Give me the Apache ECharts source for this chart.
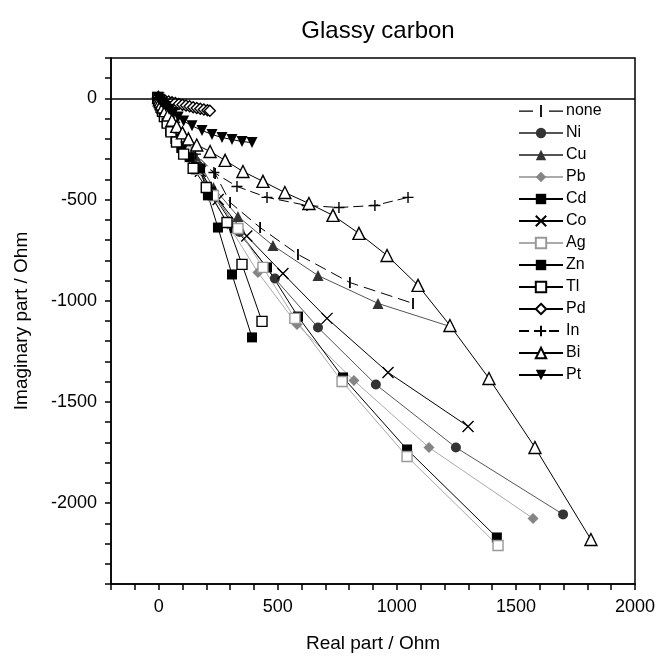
<!DOCTYPE html>
<html>
<head>
<meta charset="utf-8">
<script src="https://cdn.jsdelivr.net/npm/echarts@6/dist/echarts.min.js"></script>
<style>html,body{margin:0;padding:0;background:#fff}#c{width:660px;height:658px}</style>
</head>
<body>
<div id="c"></div>
<script>
// ---- data (Real part / Ohm, Imaginary part / Ohm) ----
const seriesNames = ['none','Ni','Cu','Pb','Cd','Co','Ag','Zn','Tl','Pd','In','Bi','Pt'];
const noneData = [[-3,4],[2,-5],[5,-12],[9,-22],[15,-36],[22,-52],[32,-72],[45,-98],[62,-132],[85,-175],[115,-230],[160,-300],[237,-371],[300,-514],[426,-638],[585,-771],[803,-910],[1068,-1013]];
const niData = [[-2,5],[2,-5],[5,-12],[9,-22],[15,-35],[22,-50],[32,-70],[45,-95],[62,-130],[85,-175],[115,-235],[155,-310],[230,-470],[340,-660],[488,-890],[669,-1132],[912,-1414],[1248,-1725],[1698,-2056]];
const cuData = [[-2,4],[2,-4],[5,-11],[9,-20],[15,-33],[22,-48],[32,-68],[45,-92],[62,-125],[85,-170],[115,-225],[160,-300],[230,-440],[333,-583],[480,-727],[669,-875],[921,-1013],[1223,-1127]];
const pbData = [[0,3],[3,-6],[6,-14],[10,-25],[16,-38],[24,-55],[34,-76],[48,-104],[66,-140],[90,-190],[122,-250],[165,-335],[210,-450],[290,-620],[417,-860],[581,-1117],[820,-1394],[1135,-1725],[1572,-2076]];
const cdData = [[-3,6],[2,-6],[5,-14],[9,-25],[15,-40],[22,-58],[32,-80],[45,-108],[62,-145],[85,-195],[115,-255],[160,-340],[220,-460],[320,-640],[455,-835],[585,-1078],[774,-1379],[1043,-1735],[1420,-2170]];
const coData = [[0,4],[3,-6],[6,-14],[10,-25],[16,-38],[24,-56],[34,-78],[48,-106],[66,-142],[90,-192],[125,-260],[175,-360],[250,-500],[370,-680],[522,-865],[707,-1087],[963,-1354],[1299,-1621]];
const agData = [[-2,5],[2,-6],[5,-14],[9,-26],[15,-41],[22,-60],[32,-83],[45,-112],[62,-150],[85,-200],[115,-262],[160,-350],[230,-480],[333,-643],[438,-835],[572,-1087],[770,-1399],[1043,-1770],[1425,-2210]];
const znData = [[-4,6],[1,-6],[3,-15],[6,-28],[10,-44],[16,-64],[24,-90],[34,-122],[48,-162],[70,-200],[95,-245],[130,-290],[174,-346],[207,-479],[249,-638],[308,-870],[392,-1181]];
const tlData = [[-4,5],[1,-6],[3,-15],[6,-28],[10,-44],[16,-64],[24,-90],[36,-122],[52,-165],[75,-215],[105,-275],[145,-345],[200,-440],[287,-613],[350,-820],[434,-1102]];
const pdData = [[-3,5],[5,-3],[15,-7],[28,-11],[42,-15],[56,-19],[70,-23],[85,-27],[100,-31],[115,-35],[130,-39],[145,-43],[160,-47],[175,-51],[190,-55],[205,-58],[215,-61]];
const inData = [[-2,4],[2,-5],[5,-12],[9,-22],[15,-35],[22,-52],[32,-72],[45,-98],[62,-130],[85,-170],[115,-215],[155,-275],[232,-366],[329,-435],[455,-489],[623,-529],[757,-539],[908,-529],[1047,-489]];
const biData = [[0,4],[3,-6],[7,-15],[12,-27],[19,-42],[28,-60],[40,-82],[56,-108],[76,-138],[100,-170],[125,-200],[160,-230],[216,-262],[279,-306],[354,-361],[438,-410],[530,-465],[631,-519],[732,-578],[841,-667],[959,-776],[1089,-924],[1223,-1122],[1387,-1384],[1580,-1725],[1815,-2180]];
const ptData = [[-3,5],[2,-4],[6,-10],[12,-18],[20,-28],[30,-40],[44,-55],[62,-72],[82,-92],[105,-112],[140,-135],[182,-158],[224,-178],[266,-193],[308,-203],[350,-213],[392,-218]];
const xTickLabels = [0,500,1000,1500,2000];
const yTickLabels = [0,-500,-1000,-1500,-2000];

const FONT = "'Liberation Sans', Arial, sans-serif";
const X_PATH = 'path://M0,0L10,10M0,10L10,0';
const PLUS_PATH = 'path://M5,0L5,10M0,5L10,5';
const BAR_PATH = 'path://M0,0L1.8,0L1.8,11L0,11Z';
const NONE_LEGEND_ICON = 'path://M0,6L14,6L14,7.3L0,7.3Z M21.1,0.5L22.9,0.5L22.9,12.5L21.1,12.5Z M30,6L44,6L44,7.3L30,7.3Z';

function mk(name, data, opt) {
  return {
    name: name, type: 'line', data: data,
    symbol: opt.symbol, symbolSize: opt.size || 10,
    symbolRotate: opt.rotate || 0,
    symbolKeepAspect: !!opt.keep,
    showAllSymbol: true,
    lineStyle: {color: opt.line || '#000', width: 1, type: opt.dash || 'solid'},
    itemStyle: {color: opt.fill, borderColor: opt.border || opt.fill, borderWidth: opt.bw || 0},
    emphasis: {disabled: true},
    z: opt.z || 2
  };
}

const series = [
  mk('none', noneData, {symbol:BAR_PATH, size:11, keep:true, fill:'#000', dash:[12,6]}),
  mk('Ni', niData, {symbol:'circle', size:10, fill:'#333', line:'#555'}),
  mk('Cu', cuData, {symbol:'triangle', size:11, fill:'#333', line:'#555'}),
  mk('Pb', pbData, {symbol:'diamond', size:11, fill:'#858585', line:'#aaa'}),
  mk('Cd', cdData, {symbol:'rect', size:10, fill:'#000'}),
  mk('Co', coData, {symbol:X_PATH, size:11, fill:'none', border:'#000', bw:1.4}),
  mk('Ag', agData, {symbol:'rect', size:10, fill:'#fff', border:'#999', bw:1.4, line:'#aaa'}),
  mk('Zn', znData, {symbol:'rect', size:10, fill:'#000'}),
  mk('Tl', tlData, {symbol:'rect', size:10, fill:'#fff', border:'#000', bw:1.4}),
  mk('Pd', pdData, {symbol:'diamond', size:11, fill:'#fff', border:'#000', bw:1.4}),
  mk('In', inData, {symbol:PLUS_PATH, size:11, fill:'none', border:'#000', bw:1.4, dash:[10,5]}),
  mk('Bi', biData, {symbol:'triangle', size:12, fill:'#fff', border:'#000', bw:1.4}),
  mk('Pt', ptData, {symbol:'triangle', size:11, rotate:180, fill:'#000'})
];
series[0].markLine = {
  silent: true, symbol: 'none', label: {show: false},
  lineStyle: {color: '#000', width: 1.5, type: 'solid'},
  data: [{yAxis: 0}]
};

const legendData = seriesNames.map(n => n === 'none' ? {name: n, icon: NONE_LEGEND_ICON} : n);

const chart = echarts.init(document.getElementById('c'), null, {renderer: 'canvas'});
chart.setOption({
  animation: false,
  backgroundColor: '#fff',
  textStyle: {fontFamily: FONT},
  title: {
    text: 'Glassy carbon', left: 373, top: 14, textAlign: 'center',
    textStyle: {fontFamily: FONT, fontSize: 24, fontWeight: 'normal', color: '#000'}
  },
  legend: {
    data: legendData, orient: 'vertical', left: 518, top: 103,
    itemWidth: 44, itemHeight: 13, itemGap: 6, padding: 0,
    selectedMode: false,
    textStyle: {fontFamily: FONT, fontSize: 16, color: '#000', padding: [0,0,0,-2]}
  },
  grid: {left: 111, right: 25, top: 58, bottom: 74, show: true, borderColor: '#000', borderWidth: 1.5, backgroundColor: 'transparent'},
  xAxis: {
    type: 'value', min: -200, max: 2000, interval: 100,
    name: 'Real part / Ohm', nameLocation: 'middle', nameGap: 50,
    nameTextStyle: {fontFamily: FONT, fontSize: 19, color: '#000'},
    axisLine: {show: true, onZero: false, lineStyle: {color: '#000', width: 1.5}},
    axisTick: {show: true, inside: false, length: 6, lineStyle: {color: '#000', width: 1.5}},
    splitLine: {show: false},
    axisLabel: {fontFamily: FONT, fontSize: 18, color: '#000', margin: 14,
      formatter: v => xTickLabels.indexOf(v) >= 0 ? String(v) : ''}
  },
  yAxis: {
    type: 'value', min: -2400, max: 200, interval: 100,
    name: 'Imaginary part / Ohm', nameLocation: 'middle', nameGap: 80, nameRotate: 90,
    nameTextStyle: {fontFamily: FONT, fontSize: 19, color: '#000'},
    axisLine: {show: true, onZero: false, lineStyle: {color: '#000', width: 1.5}},
    axisTick: {show: true, inside: false, length: 6, lineStyle: {color: '#000', width: 1.5}},
    splitLine: {show: false},
    axisLabel: {fontFamily: FONT, fontSize: 18, color: '#000', margin: 14,
      formatter: v => yTickLabels.indexOf(v) >= 0 ? String(v) : ''}
  },
  series: series
});
</script>
</body>
</html>
